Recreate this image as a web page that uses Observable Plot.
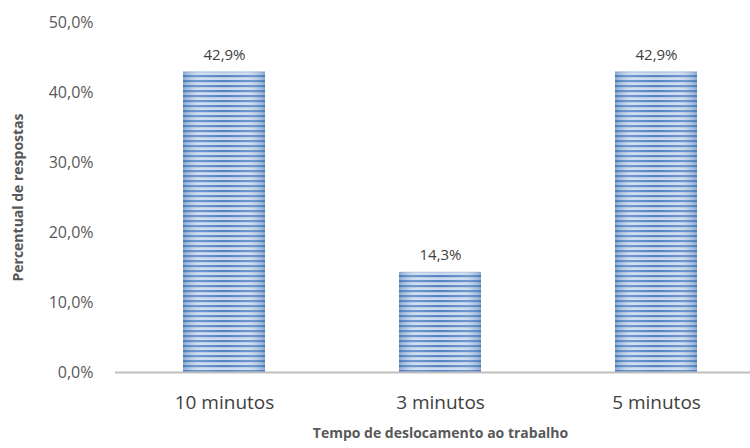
<!DOCTYPE html>
<html>
<head>
<meta charset="utf-8">
<script src="https://cdn.jsdelivr.net/npm/d3@7"></script>
<script src="https://cdn.jsdelivr.net/npm/@observablehq/plot@0.6"></script>
<style>
  html, body { margin: 0; padding: 0; background: #fff; overflow: hidden; }
  #chart { width: 750px; height: 448px; overflow: hidden; }
</style>
</head>
<body>
<div id="chart"></div>
<script>
const categories = ["10 minutos", "3 minutos", "5 minutos"];
const values = [42.9, 14.3, 42.9];
const yTicks = [0, 10, 20, 30, 40, 50];
const xTitle = "Tempo de deslocamento ao trabalho";
const yTitle = "Percentual de respostas";

const data = categories.map((c, i) => ({cat: c, v: values[i]}));
const fmt = d => d.toFixed(1).replace(".", ",") + "%";

const chart = Plot.plot({
  width: 750,
  height: 448,
  marginTop: 22,
  marginBottom: 76,
  marginLeft: 115,
  marginRight: -15,
  style: {fontFamily: "'Open Sans', sans-serif", color: "#595959", background: "#fff"},
  x: {domain: categories, paddingInner: 0.62, paddingOuter: 0.31, label: null},
  y: {domain: [0, 50], label: null},
  marks: [
    Plot.barY(data, {x: "cat", y: "v", fill: "url(#stripes)"}),
    Plot.barY(data, {x: "cat", y: "v", fill: "url(#edge)"}),
    Plot.ruleY([0], {stroke: "#bfbfbf", strokeWidth: 2}),
    Plot.text(data, {x: "cat", y: "v", text: d => fmt(d.v), dy: -17, fontSize: 15, fill: "#404040"}),
    Plot.axisY({ticks: yTicks, tickFormat: fmt, tickSize: 0, tickPadding: 22, fontSize: 16, fill: "#595959", label: null}),
    Plot.axisX({tickSize: 0, tickPadding: 23, fontSize: 19, fill: "#404040", label: null}),
    Plot.text([xTitle], {frameAnchor: "bottom", dy: 65, text: d => d, fontSize: 14, fontWeight: "bold", fill: "#595959"}),
    Plot.text([yTitle], {frameAnchor: "left", textAnchor: "middle", dx: -97, rotate: -90, text: d => d, fontSize: 14, fontWeight: "bold", fill: "#595959"})
  ]
});

const svg = d3.select(chart);
const defs = svg.insert("defs", ":first-child");
const pat = defs.append("pattern").attr("id", "stripes")
  .attr("patternUnits", "userSpaceOnUse").attr("width", 10).attr("height", 5);
pat.append("rect").attr("width", 10).attr("height", 5).attr("fill", "#cbd9ee");
pat.append("rect").attr("y", 0).attr("width", 10).attr("height", 2.2).attr("fill", "#5383c3");
const g = defs.append("linearGradient").attr("id", "edge").attr("x1", 0).attr("x2", 1).attr("y1", 0).attr("y2", 0);
g.append("stop").attr("offset", "0%").attr("stop-color", "#3f6fae").attr("stop-opacity", 0.45);
g.append("stop").attr("offset", "22%").attr("stop-color", "#ffffff").attr("stop-opacity", 0.15);
g.append("stop").attr("offset", "50%").attr("stop-color", "#ffffff").attr("stop-opacity", 0.0);
g.append("stop").attr("offset", "78%").attr("stop-color", "#ffffff").attr("stop-opacity", 0.15);
g.append("stop").attr("offset", "100%").attr("stop-color", "#3f6fae").attr("stop-opacity", 0.45);

document.getElementById("chart").appendChild(chart);
</script>
</body>
</html>
